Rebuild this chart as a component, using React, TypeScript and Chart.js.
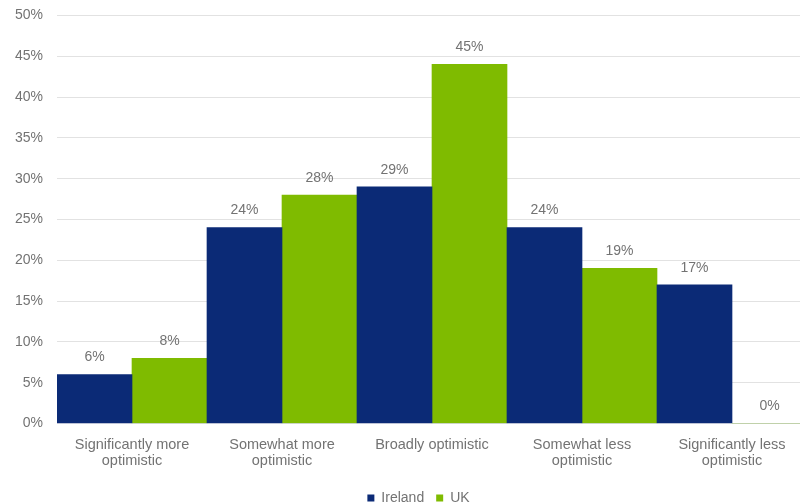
import React, { useEffect, useRef } from "react";
import { Chart, registerables } from "chart.js";

Chart.register(...registerables);

const categories: string[][] = [
  ["Significantly more", "optimistic"],
  ["Somewhat more", "optimistic"],
  ["Broadly optimistic"],
  ["Somewhat less", "optimistic"],
  ["Significantly less", "optimistic"],
];
const irelandValues = [6, 24, 29, 24, 17];
const ukValues = [8, 28, 44, 19, 0];
const irelandLabels = ["6%", "24%", "29%", "24%", "17%"];
const ukLabels = ["8%", "28%", "45%", "19%", "0%"];
const seriesNames = ["Ireland", "UK"];

const NAVY = "#0b2a76";
const GREEN = "#7fbb00";
const TEXT = "#737373";
const FONT = "'Liberation Sans', Arial, sans-serif";

const valueLabels = {
  id: "valueLabels",
  afterDatasetsDraw(chart: any) {
    const ctx = chart.ctx;
    const sets = [irelandLabels, ukLabels];
    ctx.save();
    ctx.fillStyle = TEXT;
    ctx.font = `14px ${FONT}`;
    ctx.textAlign = "center";
    ctx.textBaseline = "middle";
    chart.data.datasets.forEach((_: any, di: number) => {
      const meta = chart.getDatasetMeta(di);
      meta.data.forEach((bar: any, i: number) => {
        ctx.fillText(sets[di][i], bar.x, bar.y - 17);
      });
    });
    ctx.restore();
  },
};

const legendShift = {
  id: "legendShift",
  afterLayout(chart: any) {
    if (chart.legend) {
      chart.legend.left += 15;
      chart.legend.right += 15;
      chart.legend.top -= 3;
      chart.legend.bottom -= 3;
    }
  },
};

export default function App() {
  const ref = useRef<HTMLCanvasElement | null>(null);
  useEffect(() => {
    if (!ref.current) return;
    const chart = new Chart(ref.current, {
      type: "bar",
      data: {
        labels: categories,
        datasets: [
          { label: seriesNames[0], data: irelandValues, backgroundColor: NAVY },
          { label: seriesNames[1], data: ukValues, backgroundColor: GREEN },
        ],
      },
      options: {
        animation: false,
        responsive: false,
        devicePixelRatio: 1,
        layout: { padding: { left: 0, right: 3, top: 1, bottom: 0 } },
        datasets: {
          bar: { categoryPercentage: 1, barPercentage: 1 },
        },
        scales: {
          x: {
            grid: { display: false, drawTicks: false },
            border: { color: "#d6d9e3" },
            ticks: {
              color: TEXT,
              font: { size: 14.5, family: FONT, lineHeight: 1.12 },
              padding: 13,
              maxRotation: 0,
              autoSkip: false,
            },
          },
          y: {
            min: 0,
            max: 50,
            grid: { color: "#e2e2e2", drawTicks: false },
            border: { display: false },
            afterFit: (s: any) => {
              s.width = 57;
            },
            ticks: {
              stepSize: 5,
              color: TEXT,
              font: { size: 14, family: FONT },
              padding: 14,
              callback: (v: any) => `${v}%`,
            },
          },
        },
        plugins: {
          legend: {
            position: "bottom",
            labels: {
              boxWidth: 7,
              boxHeight: 7,
              padding: 12,
              color: TEXT,
              font: { size: 14, family: FONT },
            },
          },
          tooltip: { enabled: false },
        },
      },
      plugins: [valueLabels, legendShift],
    });
    return () => chart.destroy();
  }, []);
  return (
    <div
      style={{
        position: "fixed",
        left: 0,
        top: 0,
        width: 800,
        height: 503,
        overflow: "hidden",
        background: "#fff",
      }}
    >
      <canvas
        ref={ref}
        width={810}
        height={525}
        style={{ display: "block", marginTop: -7 }}
      />
    </div>
  );
}
